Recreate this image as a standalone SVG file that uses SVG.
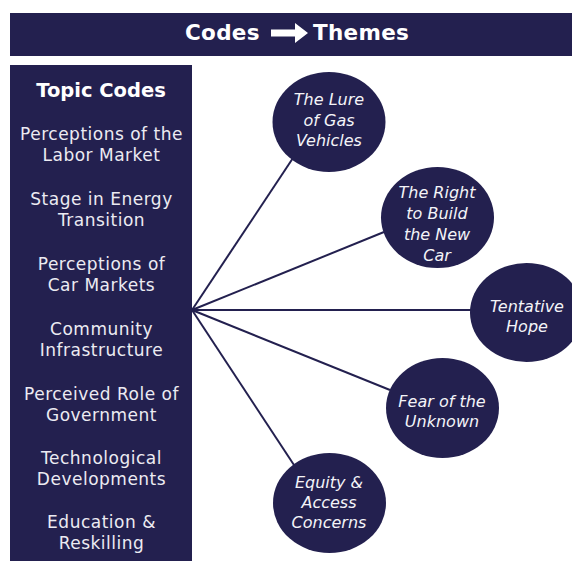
<svg xmlns="http://www.w3.org/2000/svg" width="572" height="561" viewBox="0 0 572 561">
<style>
.bg{fill:#23204f}
.title{font-family:"DejaVu Sans","Open Sans",sans-serif;font-weight:700;font-size:21.5px;fill:#ffffff;letter-spacing:0.3px}
.head{font-family:"DejaVu Sans","Open Sans",sans-serif;font-weight:700;font-size:19.5px;fill:#ffffff;text-anchor:middle}
.code{font-family:"DejaVu Sans","Open Sans",sans-serif;font-size:17px;fill:#ecebf2;text-anchor:middle;letter-spacing:0.5px}
.theme{font-family:"DejaVu Sans","Open Sans",sans-serif;font-style:italic;font-size:16px;fill:#f4f4f8;text-anchor:middle}
.conn{stroke:#23204f;stroke-width:2;fill:none}
</style>
<rect width="572" height="561" fill="#ffffff"/>
<g id="header">
<rect class="bg" x="10" y="13" width="562" height="43"/>
<text class="title" x="185" y="40">Codes</text>
<polygon points="271,29.5 295,29.5 295,23 308,33 295,43 295,36.5 271,36.5" fill="#ffffff"/>
<text class="title" x="313" y="40">Themes</text>
</g>
<g id="topic-codes">
<rect class="bg" x="10" y="65" width="182" height="496"/>
<text class="head" x="101" y="97">Topic Codes</text>
<text class="code" x="101.5" y="140">Perceptions of the</text>
<text class="code" x="101.5" y="161">Labor Market</text>
<text class="code" x="101.5" y="205">Stage in Energy</text>
<text class="code" x="101.5" y="226">Transition</text>
<text class="code" x="101.5" y="270">Perceptions of</text>
<text class="code" x="101.5" y="291">Car Markets</text>
<text class="code" x="101.5" y="335">Community</text>
<text class="code" x="101.5" y="356">Infrastructure</text>
<text class="code" x="101.5" y="400">Perceived Role of</text>
<text class="code" x="101.5" y="421">Government</text>
<text class="code" x="101.5" y="464">Technological</text>
<text class="code" x="101.5" y="485">Developments</text>
<text class="code" x="101.5" y="528">Education &amp;</text>
<text class="code" x="101.5" y="549">Reskilling</text>
</g>
<g id="connectors">
<line class="conn" x1="192" y1="310" x2="293" y2="158"/>
<line class="conn" x1="192" y1="310" x2="384" y2="232"/>
<line class="conn" x1="192" y1="310" x2="471" y2="310"/>
<line class="conn" x1="192" y1="310" x2="390" y2="390"/>
<line class="conn" x1="192" y1="310" x2="294" y2="465"/>
</g>
<g id="theme-lure">
<ellipse class="bg" cx="329" cy="122" rx="56.5" ry="50"/>
<text class="theme" x="329" y="105">The Lure</text>
<text class="theme" x="329" y="126">of Gas</text>
<text class="theme" x="329" y="146">Vehicles</text>
</g>
<g id="theme-right">
<ellipse class="bg" cx="437.5" cy="217.5" rx="56.5" ry="50.5"/>
<text class="theme" x="437" y="198">The Right</text>
<text class="theme" x="437" y="219">to Build</text>
<text class="theme" x="437" y="240">the New</text>
<text class="theme" x="437" y="261">Car</text>
</g>
<g id="theme-hope">
<ellipse class="bg" cx="526.5" cy="312.5" rx="56.5" ry="49.5"/>
<text class="theme" x="527" y="312">Tentative</text>
<text class="theme" x="527" y="332">Hope</text>
</g>
<g id="theme-fear">
<ellipse class="bg" cx="442.5" cy="408" rx="56.5" ry="50"/>
<text class="theme" x="442" y="407">Fear of the</text>
<text class="theme" x="442" y="427">Unknown</text>
</g>
<g id="theme-equity">
<ellipse class="bg" cx="329.5" cy="503" rx="56.5" ry="50"/>
<text class="theme" x="329" y="488">Equity &amp;</text>
<text class="theme" x="329" y="508">Access</text>
<text class="theme" x="329" y="528">Concerns</text>
</g>
</svg>
